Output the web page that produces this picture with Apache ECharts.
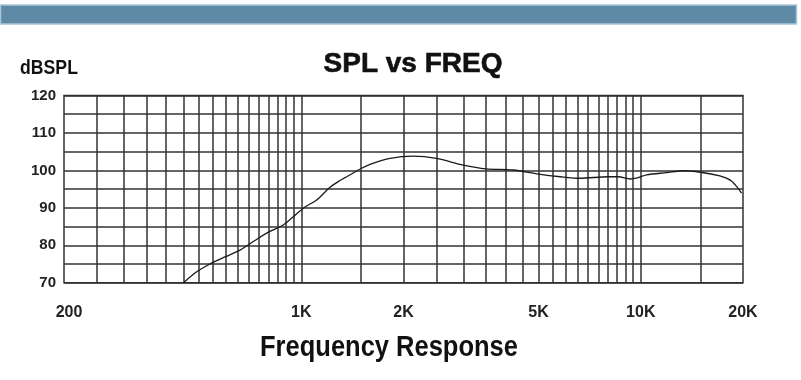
<!DOCTYPE html>
<html>
<head>
<meta charset="utf-8">
<script src="https://cdn.jsdelivr.net/npm/echarts@6/dist/echarts.min.js"></script>
<style>html,body{margin:0;padding:0;background:#fff;}#c{width:801px;height:380px;}</style>
</head>
<body>
<div id="c"></div>
<script>
// Frequency (Hz) and SPL (dB)
const freqs = [450, 492, 538, 596, 660, 722, 800, 885, 947, 1021, 1110, 1215, 1300, 1361, 1500, 1594, 1825, 2138, 2500, 3000, 3500, 4210, 5000, 5800, 6620, 8000, 8600, 9300, 9700, 10400, 11920, 13340, 15000, 17100, 18350, 19200, 19800];
const spl   = [70, 72.9, 75.0, 76.9, 78.7, 81.0, 83.5, 85.4, 87.6, 90.1, 92.1, 95.5, 97.3, 98.3, 100.5, 101.6, 103.2, 103.8, 103.2, 101.4, 100.4, 100.1, 99.0, 98.3, 97.9, 98.3, 98.3, 97.7, 97.9, 98.8, 99.4, 99.9, 99.5, 98.5, 97.4, 95.6, 93.9];
// Vertical grid lines (Hz)
const gridFreqs = [250, 300, 350, 400, 450, 500, 550, 600, 650, 700, 750, 800, 850, 900, 950, 1000, 1500, 2000, 2500, 3000, 3500, 4000, 4500, 5000, 5500, 6000, 6500, 7000, 7500, 8000, 8500, 9000, 9500, 10000, 15000];
// Labelled frequency ticks
const tickFreqs = [200, 1000, 2000, 5000, 10000, 20000];
const tickLabels = ['200', '1K', '2K', '5K', '10K', '20K'];

const FONT = "'Liberation Sans', Arial, sans-serif";
const GRID = '#333333';

const chart = echarts.init(document.getElementById('c'), null, {renderer: 'canvas'});

const gridLineData = gridFreqs.map(f => ({xAxis: f, label: {show: false}}));
const tickLabelData = tickFreqs.map((f, i) => ({
  xAxis: f,
  lineStyle: {color: 'rgba(0,0,0,0)', width: 1},
  label: {
    show: true,
    position: 'start',
    distance: 22,
    formatter: tickLabels[i],
    fontFamily: FONT,
    fontWeight: 'bold',
    fontSize: 16,
    color: '#222',
    padding: i === 0 ? [0, 0, 0, 10] : 0
  }
}));

chart.setOption({
  animation: false,
  backgroundColor: '#ffffff',
  grid: {
    left: 64, right: 58, top: 95.5, bottom: 97.3,
    show: true, borderColor: GRID, borderWidth: 1.5, backgroundColor: 'transparent'
  },
  graphic: [
    {type: 'rect', shape: {x: 0.5, y: 5, width: 796, height: 19},
     style: {fill: '#5e8aa5', stroke: '#a9c5d6', lineWidth: 1.5}, silent: true},
    {type: 'text', x: 413, y: 64,
     style: {text: 'SPL vs FREQ', fontFamily: FONT, fontWeight: 'bold', fontSize: 28, fill: '#111', stroke: '#111', lineWidth: 0.6, textAlign: 'center', textVerticalAlign: 'middle'}},
    {type: 'text', x: 49, y: 68.5, scaleX: 0.84,
     style: {text: 'dBSPL', fontFamily: FONT, fontWeight: 'bold', fontSize: 21, fill: '#111', textAlign: 'center', textVerticalAlign: 'middle'}},
    {type: 'text', x: 389, y: 348, scaleX: 0.85,
     style: {text: 'Frequency Response', fontFamily: FONT, fontWeight: 'bold', fontSize: 30, fill: '#111', textAlign: 'center', textVerticalAlign: 'middle'}}
  ],
  xAxis: {
    type: 'log', logBase: 10, min: 200, max: 20000,
    axisLine: {show: false}, axisTick: {show: false}, axisLabel: {show: false},
    splitLine: {show: false}
  },
  yAxis: {
    type: 'value', min: 70, max: 120, interval: 5,
    axisLine: {show: false}, axisTick: {show: false},
    axisLabel: {
      margin: 8,
      formatter: v => (v % 10 === 0 ? String(v) : ''),
      fontFamily: FONT, fontWeight: 'bold', fontSize: 15, color: '#222',
      padding: [4, 0, 0, 0]
    },
    splitLine: {show: true, lineStyle: {color: GRID, width: 1.5}}
  },
  series: [
    {
      type: 'line',
      data: freqs.map((f, i) => [f, spl[i]]),
      smooth: 0.3,
      symbol: 'none',
      clip: true,
      lineStyle: {color: '#1a1a1a', width: 1.3},
      z: 5,
      markLine: {
        silent: true,
        symbol: ['none', 'none'],
        animation: false,
        lineStyle: {color: GRID, width: 1.5, type: 'solid'},
        emphasis: {disabled: true},
        data: gridLineData.concat(tickLabelData)
      }
    }
  ]
});
</script>
</body>
</html>
